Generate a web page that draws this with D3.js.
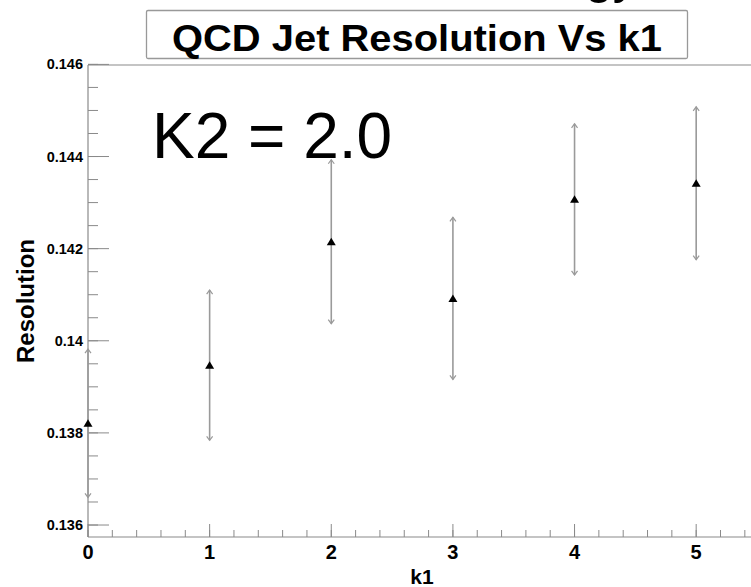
<!DOCTYPE html>
<html>
<head>
<meta charset="utf-8">
<script src="https://cdn.jsdelivr.net/npm/d3@7"></script>
<style>
  html, body { margin: 0; padding: 0; background: #fff; }
  svg { display: block; }
  text { font-family: "Liberation Sans", Arial, Helvetica, sans-serif; }
</style>
</head>
<body>
<svg id="chart" width="751" height="587"></svg>
<script>
// ---- data ----
const k1Values = [0, 1, 2, 3, 4, 5];
const resolution = [0.13821, 0.13947, 0.14215, 0.14092, 0.14307, 0.14342];
const resolutionErr = [0.00161, 0.00163, 0.00178, 0.00176, 0.00164, 0.00166];
const xTickValues = [0, 1, 2, 3, 4, 5];
const xTickLabels = ["0", "1", "2", "3", "4", "5"];
const yTickValues = [0.136, 0.138, 0.140, 0.142, 0.144, 0.146];
const yTickLabels = ["0.136", "0.138", "0.14", "0.142", "0.144", "0.146"];
const titleText = "QCD Jet Resolution Vs k1";
const xTitle = "k1";
const yTitle = "Resolution";
const annotation = "K2 = 2.0";

// ---- layout ----
const svg = d3.select("#chart");
const mLeft = 88, mRight = 757, mTop = 65, mBottom = 537;
const x = d3.scaleLinear().domain([0, 5.5]).range([mLeft, mRight]);
const y = d3.scaleLinear().domain([0.13574, 0.146]).range([mBottom, 64.4]);
const axisColor = "#8a8a8a";

// stray cut-off text at top (from slide)
svg.append("text").attr("x", 585).attr("y", -7)
  .attr("font-size", 50).attr("fill", "#000").text("gy");

// frame
svg.append("line").attr("x1", mLeft).attr("x2", 751).attr("y1", mTop).attr("y2", mTop)
  .attr("stroke", axisColor).attr("stroke-width", 1.2);
svg.append("line").attr("x1", mLeft).attr("x2", mLeft).attr("y1", mTop).attr("y2", mBottom)
  .attr("stroke", axisColor).attr("stroke-width", 1.2);
svg.append("line").attr("x1", mLeft).attr("x2", 751).attr("y1", mBottom).attr("y2", mBottom)
  .attr("stroke", axisColor).attr("stroke-width", 1.2);

// y ticks (inside, pointing right)
const yMinor = d3.range(0, 21).map(i => 0.136 + i * 0.0005).filter(v => v <= 0.14601);
svg.append("g").selectAll("line").data(yMinor).join("line")
  .attr("x1", mLeft).attr("x2", mLeft + 10)
  .attr("y1", d => y(d)).attr("y2", d => y(d))
  .attr("stroke", axisColor).attr("stroke-width", 1);
svg.append("g").selectAll("line").data(yTickValues).join("line")
  .attr("x1", mLeft).attr("x2", mLeft + 21)
  .attr("y1", d => y(d)).attr("y2", d => y(d))
  .attr("stroke", axisColor).attr("stroke-width", 1);
svg.append("g").selectAll("text").data(yTickValues).join("text")
  .attr("x", mLeft - 5).attr("y", d => y(d) + 5)
  .attr("text-anchor", "end").attr("font-size", 14.5).attr("font-weight", "bold")
  .text((d, i) => yTickLabels[i]);

// x ticks (inside, pointing up)
const xMinor = d3.range(0, 28).map(i => i * 0.2).filter(v => v <= 5.5);
svg.append("g").selectAll("line").data(xMinor).join("line")
  .attr("x1", d => x(d)).attr("x2", d => x(d))
  .attr("y1", mBottom).attr("y2", mBottom - 7)
  .attr("stroke", axisColor).attr("stroke-width", 1);
svg.append("g").selectAll("line").data(xTickValues).join("line")
  .attr("x1", d => x(d)).attr("x2", d => x(d))
  .attr("y1", mBottom).attr("y2", mBottom - 13)
  .attr("stroke", axisColor).attr("stroke-width", 1);
svg.append("g").selectAll("text").data(xTickValues).join("text")
  .attr("x", d => x(d)).attr("y", 559)
  .attr("text-anchor", "middle").attr("font-size", 20).attr("font-weight", "bold")
  .text((d, i) => xTickLabels[i]);

// axis titles
svg.append("text").attr("x", 422).attr("y", 584)
  .attr("text-anchor", "middle").attr("font-size", 21).attr("font-weight", "bold")
  .text(xTitle);
svg.append("text").attr("transform", "translate(34,301) rotate(-90)")
  .attr("text-anchor", "middle").attr("font-size", 24).attr("font-weight", "bold")
  .text(yTitle);

// annotation
svg.append("text").attr("x", 152).attr("y", 158)
  .attr("font-size", 64).attr("fill", "#000").text(annotation);

// error bars
const barColor = "#9a9a9a";
const pts = k1Values.map((k, i) => ({ k, v: resolution[i], e: resolutionErr[i] }));
const eb = svg.append("g");
eb.selectAll("line").data(pts).join("line")
  .attr("x1", d => x(d.k)).attr("x2", d => x(d.k))
  .attr("y1", d => y(d.v + d.e)).attr("y2", d => y(d.v - d.e))
  .attr("stroke", barColor).attr("stroke-width", 1.6);
eb.selectAll("path.up").data(pts).join("path").attr("class", "up")
  .attr("d", d => `M${x(d.k) - 3},${y(d.v + d.e) + 4}L${x(d.k)},${y(d.v + d.e)}L${x(d.k) + 3},${y(d.v + d.e) + 4}`)
  .attr("fill", "none").attr("stroke", barColor).attr("stroke-width", 1.2);
eb.selectAll("path.dn").data(pts).join("path").attr("class", "dn")
  .attr("d", d => `M${x(d.k) - 3},${y(d.v - d.e) - 4}L${x(d.k)},${y(d.v - d.e)}L${x(d.k) + 3},${y(d.v - d.e) - 4}`)
  .attr("fill", "none").attr("stroke", barColor).attr("stroke-width", 1.2);

// markers (triangle up)
svg.append("g").selectAll("path").data(pts).join("path")
  .attr("d", d => `M${x(d.k) - 4.5},${y(d.v) + 3.5}L${x(d.k)},${y(d.v) - 4}L${x(d.k) + 4.5},${y(d.v) + 3.5}Z`)
  .attr("fill", "#000");

// title box
svg.append("rect").attr("x", 146.5).attr("y", 10.5).attr("width", 541).attr("height", 48)
  .attr("fill", "#fff").attr("stroke", "#999").attr("stroke-width", 1.3).attr("rx", 1.5);
svg.append("text").attr("x", 417).attr("y", 51)
  .attr("text-anchor", "middle").attr("font-size", 37).attr("font-weight", "bold")
  .style("font-family", "'Liberation Sans Narrow', 'Liberation Sans', Arial, sans-serif")
  .attr("textLength", 490).attr("lengthAdjust", "spacingAndGlyphs")
  .text(titleText);
</script>
</body>
</html>
